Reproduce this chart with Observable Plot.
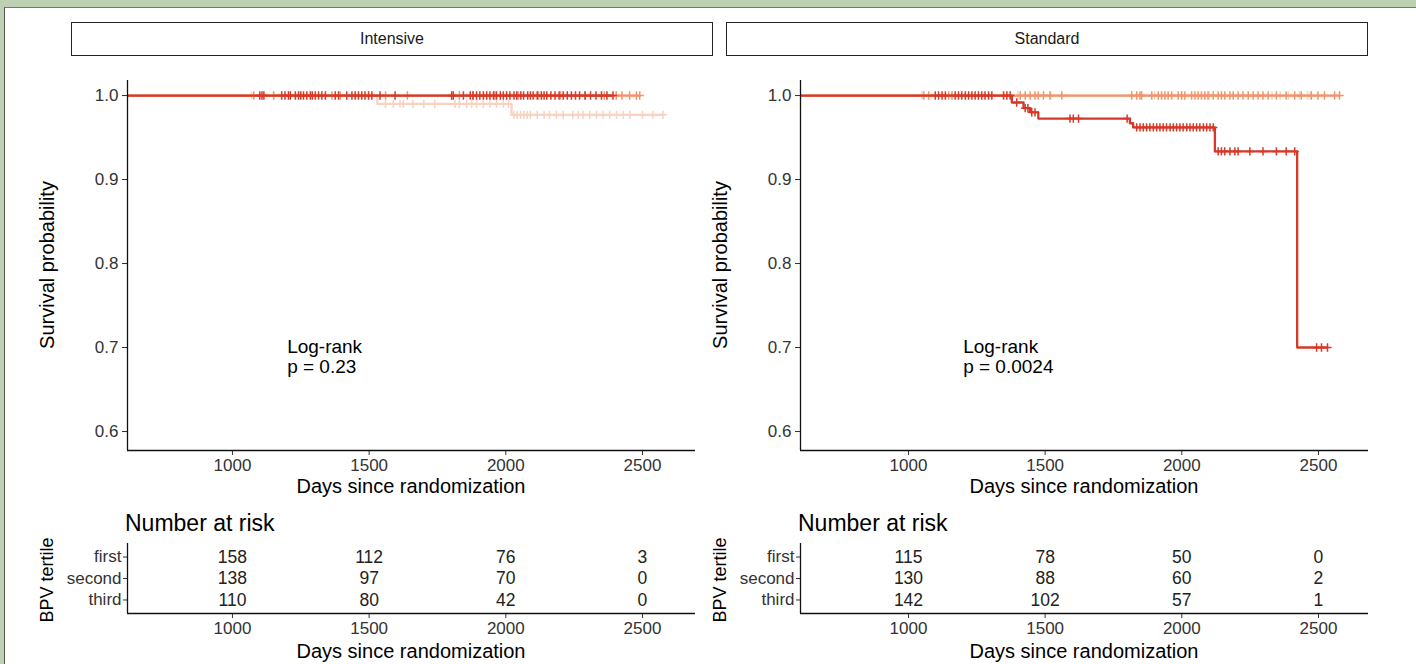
<!DOCTYPE html>
<html>
<head>
<meta charset="utf-8">
<script src="https://cdn.jsdelivr.net/npm/d3@7"></script>
<script src="https://cdn.jsdelivr.net/npm/@observablehq/plot@0.6"></script>
<style>
  html, body { margin: 0; padding: 0; }
  body { width: 1416px; height: 664px; overflow: hidden; background: #bdd0b4; font-family: "Liberation Sans", Arial, Helvetica, sans-serif; }
  #frame { position: absolute; left: 4px; top: 7px; width: 1412px; height: 657px; background: #fff; border-left: 1px solid #555; border-top: 1px solid #777; box-sizing: border-box; }
  #root { position: absolute; left: 0; top: 0; width: 1416px; height: 664px; }
  .strip { position: absolute; box-sizing: border-box; border: 1.6px solid #222; background: #fff; font-size: 16px; color: #1a1a1a; text-align: center; }
  .title { position: absolute; color: #000; white-space: nowrap; text-align: center; }
  .rot { transform: rotate(-90deg); transform-origin: 50% 50%; }
</style>
</head>
<body>
<div id="frame"></div>
<div id="root"></div>
<script>
// ---------------- data ----------------
const groups = ["first", "second", "third"];
const groupColors = ["#f9d2c0", "#f1946e", "#d5392a"];
const xTicks = [1000, 1500, 2000, 2500];
const yTicks = [0.6, 0.7, 0.8, 0.9, 1.0];
const panels = ["Intensive", "Standard"];
const pValues = ["p = 0.23", "p = 0.0024"];

// Intensive arm: event times / survival after each step / last follow-up
const intensiveFirstTimes = [0, 1530, 2021];
const intensiveFirstSurv = [1.0, 0.990, 0.977];
const intensiveFirstEnd = 2580;
const intensiveSecondTimes = [0];
const intensiveSecondSurv = [1.0];
const intensiveSecondEnd = 2490;
const intensiveThirdTimes = [0];
const intensiveThirdSurv = [1.0];
const intensiveThirdEnd = 2392;

const intensiveFirstCensor = [1070, 1150, 1560, 1588, 1613, 1625, 1660, 1700, 1740, 1814, 1830, 1857, 1875, 1893, 1918, 1942, 1966, 1991, 2010, 2030, 2042, 2054, 2066, 2078, 2090, 2115, 2140, 2160, 2185, 2210, 2245, 2265, 2283, 2307, 2332, 2356, 2380, 2405, 2430, 2454, 2500, 2538, 2575];
const intensiveSecondCensor = [1078, 1151, 1364, 1394, 1560, 1640, 1830, 1880, 1960, 2045, 2120, 2200, 2290, 2360, 2404, 2425, 2453, 2478, 2490];
const intensiveThirdCensor = [1100, 1108, 1115, 1180, 1192, 1205, 1212, 1230, 1242, 1250, 1260, 1272, 1285, 1292, 1303, 1315, 1327, 1340, 1376, 1388, 1418, 1437, 1449, 1461, 1473, 1485, 1498, 1510, 1540, 1595, 1802, 1808, 1845, 1870, 1880, 1893, 1905, 1918, 1930, 1942, 1955, 1966, 1980, 1991, 2003, 2015, 2030, 2040, 2055, 2065, 2080, 2090, 2100, 2115, 2130, 2140, 2150, 2165, 2180, 2195, 2210, 2225, 2240, 2255, 2270, 2290, 2310, 2330, 2350, 2370, 2392];

// Standard arm
const standardFirstTimes = [0];
const standardFirstSurv = [1.0];
const standardFirstEnd = 2470;
const standardSecondTimes = [0];
const standardSecondSurv = [1.0];
const standardSecondEnd = 2577;
const standardThirdTimes = [0, 1378, 1421, 1445, 1475, 1810, 1822, 2121, 2422];
const standardThirdSurv = [1.0, 0.9917, 0.985, 0.980, 0.9726, 0.967, 0.962, 0.9335, 0.700];
const standardThirdEnd = 2533;

const standardFirstCensor = [1050, 1160, 1400, 1520, 1900, 2000, 2100, 2330, 2360, 2390, 2430, 2460, 2470];
const standardSecondCensor = [1056, 1074, 1147, 1159, 1409, 1427, 1445, 1463, 1475, 1494, 1518, 1561, 1817, 1835, 1847, 1853, 1890, 1914, 1926, 1938, 1950, 1963, 1987, 1999, 2011, 2036, 2048, 2060, 2072, 2084, 2096, 2115, 2133, 2145, 2157, 2176, 2188, 2206, 2224, 2243, 2261, 2279, 2297, 2316, 2346, 2382, 2413, 2437, 2474, 2498, 2522, 2559, 2577];
const standardThirdCensor = [1098, 1110, 1123, 1135, 1171, 1183, 1195, 1208, 1220, 1232, 1244, 1256, 1268, 1280, 1293, 1305, 1348, 1360, 1372, 1396, 1427, 1437, 1451, 1463, 1591, 1603, 1622, 1800, 1835, 1847, 1859, 1871, 1883, 1896, 1908, 1920, 1932, 1944, 1957, 1969, 1981, 1993, 2005, 2018, 2030, 2042, 2054, 2066, 2079, 2091, 2103, 2115, 2133, 2145, 2157, 2176, 2194, 2206, 2249, 2297, 2346, 2382, 2413, 2493, 2511, 2533];

// Number at risk at 1000, 1500, 2000, 2500 days
const intensiveRiskFirst = [158, 112, 76, 3];
const intensiveRiskSecond = [138, 97, 70, 0];
const intensiveRiskThird = [110, 80, 42, 0];
const standardRiskFirst = [115, 78, 50, 0];
const standardRiskSecond = [130, 88, 60, 2];
const standardRiskThird = [142, 102, 57, 1];

// ---------------- assemble ----------------
const panelData = [
  {
    name: panels[0], p: pValues[0], xDomain: [616, 2694], left: 0,
    curves: [
      {times: intensiveFirstTimes, surv: intensiveFirstSurv, end: intensiveFirstEnd, censor: intensiveFirstCensor},
      {times: intensiveSecondTimes, surv: intensiveSecondSurv, end: intensiveSecondEnd, censor: intensiveSecondCensor},
      {times: intensiveThirdTimes, surv: intensiveThirdSurv, end: intensiveThirdEnd, censor: intensiveThirdCensor}
    ],
    risk: [intensiveRiskFirst, intensiveRiskSecond, intensiveRiskThird]
  },
  {
    name: panels[1], p: pValues[1], xDomain: [605, 2683], left: 673,
    curves: [
      {times: standardFirstTimes, surv: standardFirstSurv, end: standardFirstEnd, censor: standardFirstCensor},
      {times: standardSecondTimes, surv: standardSecondSurv, end: standardSecondEnd, censor: standardSecondCensor},
      {times: standardThirdTimes, surv: standardThirdSurv, end: standardThirdEnd, censor: standardThirdCensor}
    ],
    risk: [standardRiskFirst, standardRiskSecond, standardRiskThird]
  }
];

function survivalAt(curve, t) {
  let s = curve.surv[0];
  for (let i = 0; i < curve.times.length; i++) if (curve.times[i] <= t) s = curve.surv[i];
  return s;
}

const root = document.getElementById("root");
const fontFamily = '"Liberation Sans", Arial, Helvetica, sans-serif';
const yDomain = [0.5774, 1.0179];
const annotX = 1200, annotY = 0.70;

function addDiv(cls, text, css) {
  const d = document.createElement("div");
  d.className = cls;
  d.textContent = text;
  Object.assign(d.style, css);
  root.appendChild(d);
  return d;
}

panelData.forEach((pd, pi) => {
  const L = pd.left;
  const plotLeft = L + 127, plotRight = L + 695;
  const cx = (plotLeft + plotRight) / 2;

  // strip
  addDiv("strip", pd.name, {left: (pi === 0 ? 71 : 726) + "px", top: "22px", width: "642px", height: "34px", lineHeight: "31px"});

  // survival plot
  const marks = [];
  pd.curves.forEach((c, gi) => {
    const pts = c.times.map((t, i) => ({t, s: c.surv[i], g: groups[gi]}));
    pts.push({t: c.end, s: c.surv[c.surv.length - 1], g: groups[gi]});
    marks.push(Plot.line(pts, {x: "t", y: "s", stroke: "g", curve: "step-after", strokeWidth: 2.3, clip: true}));
    const cz = c.censor.map(t => ({t, s: survivalAt(c, t), g: groups[gi]}));
    marks.push(Plot.dot(cz, {x: "t", y: "s", stroke: "g", symbol: "plus", r: 2.8, strokeWidth: 1.5}));
  });
  marks.push(Plot.text(["Log-rank"], {x: () => annotX, y: () => annotY, text: d => d, textAnchor: "start", lineAnchor: "middle", dy: -1, fontSize: 19, fill: "#000"}));
  marks.push(Plot.text([pd.p], {x: () => annotX, y: () => annotY, text: d => d, textAnchor: "start", lineAnchor: "middle", dy: 19, fontSize: 19, fill: "#000"}));
  marks.push(Plot.axisX(xTicks, {tickSize: 5, tickPadding: 3, fontSize: 17, label: null, tickFormat: d3.format("d")}));
  marks.push(Plot.axisY(yTicks, {tickSize: 5, tickPadding: 4, fontSize: 17, label: null, tickFormat: d3.format(".1f")}));
  marks.push(Plot.ruleX([pd.xDomain[0]], {stroke: "#111", strokeWidth: 1.3}));
  marks.push(Plot.ruleY([yDomain[0]], {stroke: "#111", strokeWidth: 1.3}));

  const surv = Plot.plot({
    width: 713, height: 440,
    marginLeft: 127, marginRight: 18, marginTop: 20, marginBottom: 50,
    x: {domain: pd.xDomain},
    y: {domain: yDomain},
    color: {domain: groups, range: groupColors},
    style: {fontFamily, fontSize: "17px", color: "#333", background: "transparent", overflow: "visible"},
    marks
  });
  surv.style.position = "absolute";
  surv.style.left = L + "px";
  surv.style.top = "60px";
  root.appendChild(surv);

  addDiv("title", "Days since randomization", {left: (cx - 200) + "px", top: "476px", width: "400px", fontSize: "20px", lineHeight: "20px"});
  addDiv("title rot", "Survival probability", {left: (L + 47 - 150) + "px", top: "255px", width: "300px", height: "20px", fontSize: "20px", lineHeight: "20px"});

  // risk table
  const riskRows = [];
  pd.risk.forEach((arr, gi) => arr.forEach((n, ti) => riskRows.push({t: xTicks[ti], row: gi, n})));
  const rowDomain = [2.63, -0.63];
  const risk = Plot.plot({
    width: 713, height: 159,
    marginLeft: 127, marginRight: 18, marginTop: 38, marginBottom: 51,
    x: {domain: pd.xDomain},
    y: {domain: rowDomain},
    style: {fontFamily, fontSize: "17px", color: "#333", background: "transparent", overflow: "visible"},
    marks: [
      Plot.text(riskRows, {x: "t", y: "row", text: "n", fontSize: 17.5, fill: "#222"}),
      Plot.axisX(xTicks, {tickSize: 5, tickPadding: 3, fontSize: 17, label: null, tickFormat: d3.format("d")}),
      Plot.axisY([0, 1, 2], {tickSize: 4, tickPadding: 2, fontSize: 17, label: null, tickFormat: i => groups[i]}),
      Plot.ruleX([pd.xDomain[0]], {stroke: "#111", strokeWidth: 1.3}),
      Plot.ruleY([rowDomain[0]], {stroke: "#111", strokeWidth: 1.3})
    ]
  });
  risk.style.position = "absolute";
  risk.style.left = L + "px";
  risk.style.top = "505px";
  root.appendChild(risk);

  addDiv("title", "Number at risk", {left: (L + 125) + "px", top: "510px", fontSize: "23px", lineHeight: "26px", textAlign: "left"});
  addDiv("title", "Days since randomization", {left: (cx - 200) + "px", top: "641px", width: "400px", fontSize: "20px", lineHeight: "20px"});
  addDiv("title rot", "BPV tertile", {left: (L + 47 - 100) + "px", top: "570px", width: "200px", height: "20px", fontSize: "18px", lineHeight: "20px"});
});
</script>
</body>
</html>
